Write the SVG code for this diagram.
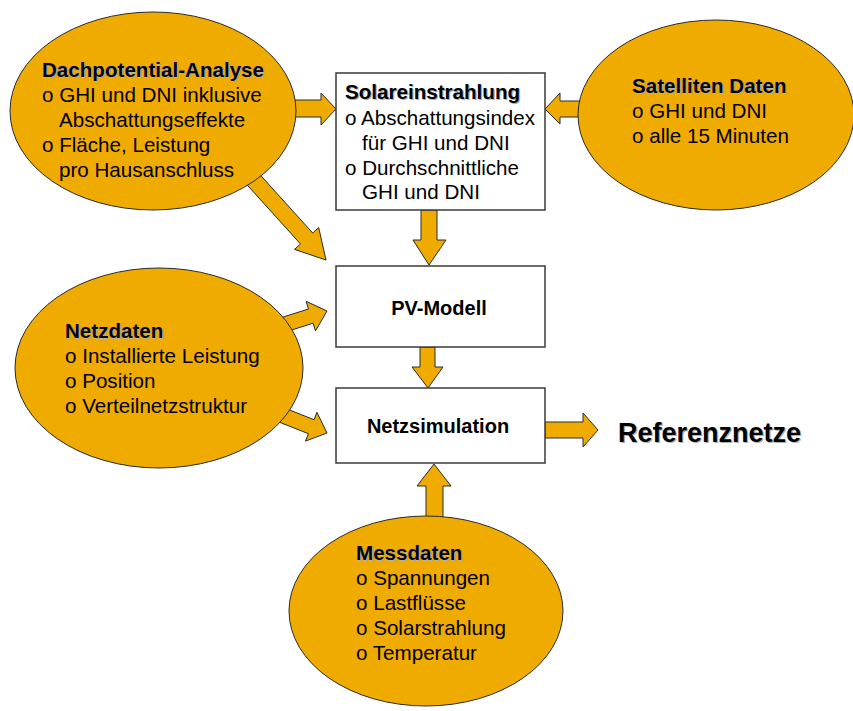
<svg xmlns="http://www.w3.org/2000/svg" width="853" height="711" viewBox="0 0 853 711">
<style>
.ell{fill:#F0AB00;stroke:#2a2a2a;stroke-width:1}
.box{fill:#fff;stroke:#3a3a3a;stroke-width:1.5}
.arr{fill:#F0AB00;stroke:#2a2a2a;stroke-width:1;stroke-linejoin:miter}
text{font-family:"Liberation Sans",Arial,sans-serif;font-size:20.6px;fill:#000}
.b{font-weight:bold}
.sh{font-weight:bold;fill:#b0b0b0}
.c{font-size:20px;font-weight:bold}
.big{font-size:27px;font-weight:bold}
</style>
<rect width="853" height="711" fill="#fff"/>
<g id="connectors">
<polygon class="arr" points="290,100 321,100 321,93 336,109 321,125 321,117 290,117"/>
<polygon class="arr" points="590,101 560,101 560,93 545,109 560,124 560,117 590,117"/>
<polygon class="arr" points="258.4,172.9 312.7,233 318.7,227.6 326,260 294.5,249.4 300.5,244 246.2,183.9"/>
<polygon class="arr" points="421,210 437,210 437,240 446,240 429,265 413,240 421,240"/>
<polygon class="arr" points="277.1,318.9 308.5,309 306.1,301.3 327,311 315.5,330.9 313.1,323.2 281.7,333.2"/>
<polygon class="arr" points="420,347 435,347 435,367 443,367 428,388 412,367 420,367"/>
<polygon class="arr" points="283.3,407.5 314,419.7 316.9,412.3 327,433 305.5,441.1 308.4,433.7 277.7,421.5"/>
<polygon class="arr" points="545,422 583,422 583,413 598,430 583,447 583,438 545,438"/>
<polygon class="arr" points="426,525 426,486 417,486 434,464 451,486 443,486 443,525"/>
</g>
<g id="dachpotential">
<ellipse class="ell" cx="153" cy="111" rx="143" ry="99"/>
<text class="sh" x="43.2" y="78.2">Dachpotential-Analyse</text>
<text class="b" x="42" y="77">Dachpotential-Analyse</text>
<text x="42" y="102">o GHI und DNI inklusive</text>
<text x="59" y="127">Abschattungseffekte</text>
<text x="42" y="152">o Fläche, Leistung</text>
<text x="59" y="177">pro Hausanschluss</text>
</g>
<g id="solareinstrahlung">
<rect class="box" x="336" y="73" width="209" height="137"/>
<text class="sh" x="346.2" y="100.2">Solareinstrahlung</text>
<text class="b" x="345" y="99">Solareinstrahlung</text>
<text x="345" y="125">o Abschattungsindex</text>
<text x="362" y="150">für GHI und DNI</text>
<text x="345" y="175">o Durchschnittliche</text>
<text x="362" y="199">GHI und DNI</text>
</g>
<g id="satelliten">
<ellipse class="ell" cx="716" cy="115" rx="138" ry="95"/>
<text class="sh" x="633.2" y="94.2">Satelliten Daten</text>
<text class="b" x="632" y="93">Satelliten Daten</text>
<text x="632" y="118">o GHI und DNI</text>
<text x="632" y="143">o alle 15 Minuten</text>
</g>
<g id="pvmodell">
<rect class="box" x="336" y="266" width="209" height="81"/>
<text class="c" x="439" y="315" text-anchor="middle">PV-Modell</text>
</g>
<g id="netzdaten">
<ellipse class="ell" cx="159" cy="368" rx="144" ry="100"/>
<text class="sh" x="66.2" y="339.2">Netzdaten</text>
<text class="b" x="65" y="338">Netzdaten</text>
<text x="65" y="363">o Installierte Leistung</text>
<text x="65" y="388">o Position</text>
<text x="65" y="413">o Verteilnetzstruktur</text>
</g>
<g id="netzsimulation">
<rect class="box" x="336" y="388" width="209" height="75"/>
<text class="c" x="438" y="433" text-anchor="middle">Netzsimulation</text>
</g>
<g id="referenznetze">
<text class="big" x="619.2" y="443.2" style="fill:#b0b0b0">Referenznetze</text>
<text class="big" x="618" y="442">Referenznetze</text>
</g>
<g id="messdaten">
<ellipse class="ell" cx="426" cy="611" rx="137" ry="95"/>
<text class="sh" x="357.2" y="561.2">Messdaten</text>
<text class="b" x="356" y="560">Messdaten</text>
<text x="356" y="585">o Spannungen</text>
<text x="356" y="610">o Lastflüsse</text>
<text x="356" y="635">o Solarstrahlung</text>
<text x="356" y="660">o Temperatur</text>
</g>
</svg>
